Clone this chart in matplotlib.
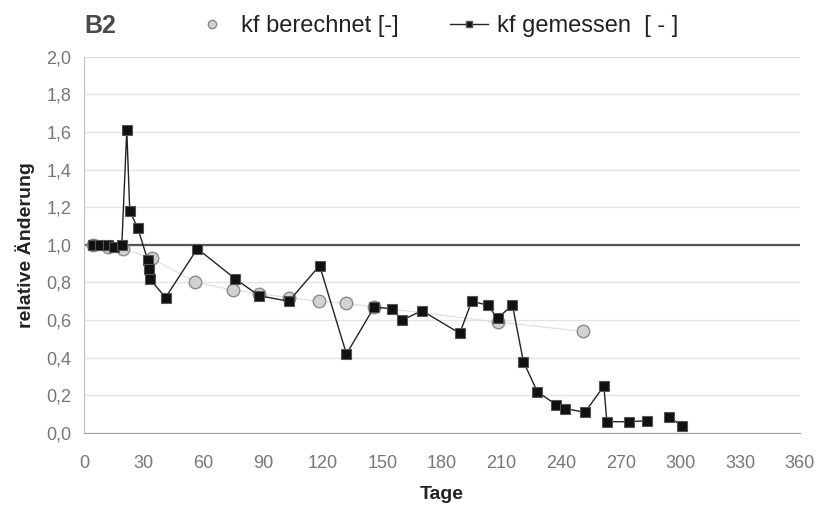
import numpy as np
import matplotlib.pyplot as plt
from matplotlib.lines import Line2D
from matplotlib.ticker import FuncFormatter

# kf gemessen (black squares), NaN = gap in line
tage_gem = [4.5, 8, 12, 15, 19, 21.5, 23, 27, 32, 32.5, 33, 41, 57, 76, 88, 103, 118.5, 132,
            146, 155, 160, 170, 189, 195, 203, 208, 215.5, 221, 228, 237.5, 242, 252,
            261.5, 263, 274, 283, 288, 294.5, 301]
kf_gem = [1.0, 1.0, 1.0, 0.99, 1.0, 1.61, 1.18, 1.09, 0.92, 0.87, 0.82, 0.72, 0.98, 0.82,
          0.73, 0.70, 0.89, 0.42, 0.67, 0.66, 0.60, 0.65, 0.53, 0.70, 0.68, 0.61, 0.68,
          0.38, 0.22, 0.15, 0.13, 0.11, 0.25, 0.06, 0.06, 0.065, np.nan, 0.085, 0.035]

# kf berechnet (grey circles)
tage_ber = [4.5, 12, 19.5, 34, 56, 75, 88, 103, 118, 132, 146, 208, 251]
kf_ber = [1.0, 0.99, 0.98, 0.93, 0.80, 0.76, 0.74, 0.72, 0.70, 0.69, 0.67, 0.59, 0.54]

plt.rcParams['font.family'] = ['Liberation Sans', 'DejaVu Sans']

fig = plt.figure(figsize=(8.16, 5.05), dpi=100)
ax = fig.add_axes([0.103, 0.1426, 0.877, 0.745])

ax.set_xlim(0, 360)
ax.set_ylim(0, 2.0)
ax.set_xticks(np.arange(0, 361, 30))
ax.set_yticks(np.arange(0, 2.01, 0.2))
ax.yaxis.set_major_formatter(FuncFormatter(lambda v, p: f'{v:.1f}'.replace('.', ',')))
ax.grid(axis='y', color='#e4e4e4', linewidth=1.0)
ax.set_axisbelow(True)
ax.axhline(1.0, color='#555555', linewidth=1.6, zorder=1)

for s in ['top', 'right']:
    ax.spines[s].set_visible(False)
ax.spines['left'].set_color('#c0c0c0')
ax.spines['bottom'].set_color('#a0a0a0')
ax.tick_params(axis='both', length=0, labelsize=13, colors='#777777')
ax.tick_params(axis='x', pad=16)
ax.tick_params(axis='y', pad=9)

ax.plot(tage_ber, kf_ber, color='#dddddd', linewidth=0.8, marker='o', markersize=9,
        markerfacecolor='#d2d2d2', markeredgecolor='#8a8a8a', markeredgewidth=1.0,
        zorder=2)
ax.plot(tage_gem, kf_gem, color='#222222', linewidth=1.0, marker='s', markersize=6.5,
        markerfacecolor='#111111', markeredgecolor='#555555', markeredgewidth=0.8,
        zorder=3)

ax.set_xlabel('Tage', fontsize=14, fontweight='bold', color='#222222', labelpad=10)
ax.set_ylabel('relative Änderung', fontsize=14, fontweight='bold', color='#222222', labelpad=8)

fig.text(0.104, 0.935, 'B2', fontsize=18, fontweight='bold', color='#4a4a4a')

h_ber = Line2D([], [], linestyle='none', marker='o', markersize=6,
               markerfacecolor='#d2d2d2', markeredgecolor='#8a8a8a')
h_gem = Line2D([], [], color='#222222', linewidth=1.0, marker='s', markersize=5,
               markerfacecolor='#111111', markeredgecolor='#555555')
fig.legend([h_ber, h_gem], ['kf berechnet [-]', 'kf gemessen  [ - ]'],
           loc='upper left', bbox_to_anchor=(0.211, 1.012), ncol=2, frameon=False,
           fontsize=17, handlelength=1.6, columnspacing=2.2, handletextpad=0.4,
           labelcolor='#222222')

fig.savefig('out.png', dpi=100)
